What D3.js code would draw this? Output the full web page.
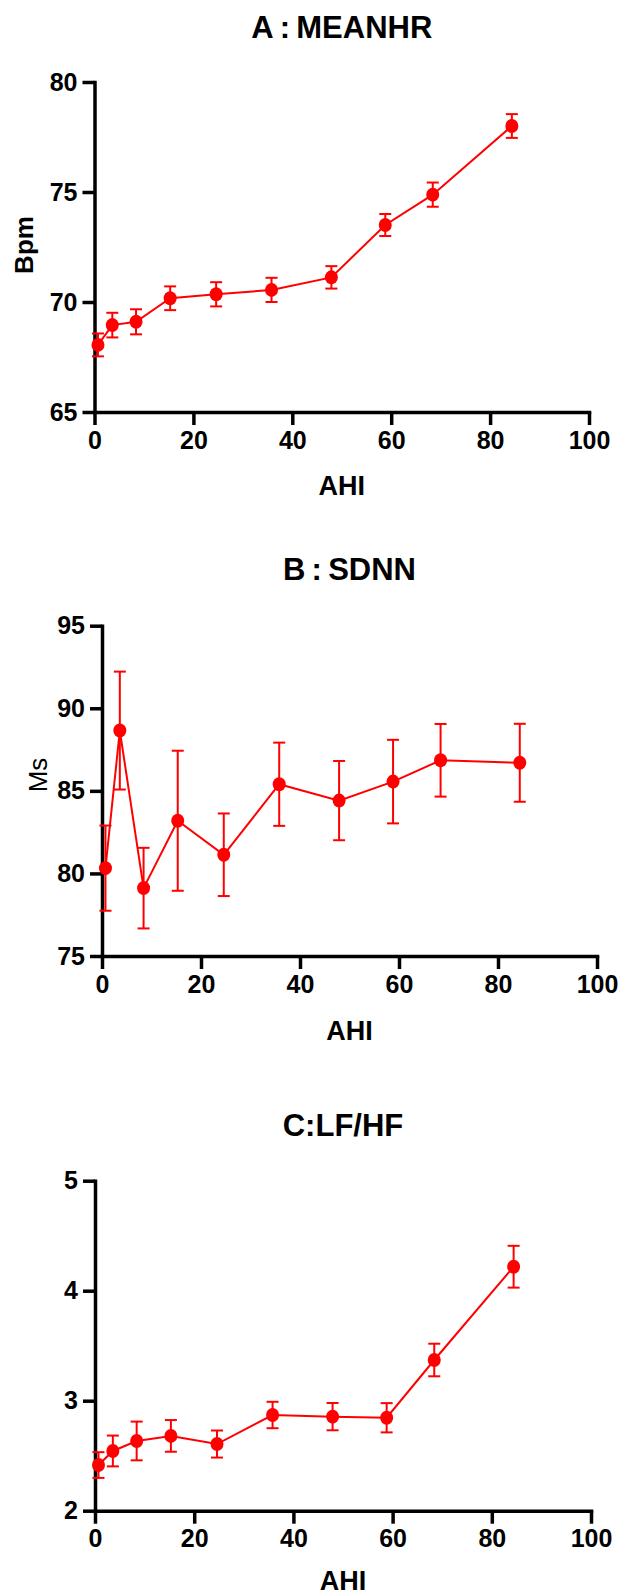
<!DOCTYPE html>
<html>
<head>
<meta charset="utf-8">
<script src="https://cdn.jsdelivr.net/npm/d3@7"></script>
<style>
  body { margin: 0; background: #fff; }
  text { font-family: "Liberation Sans", Arial, sans-serif; fill: #000; }
</style>
</head>
<body>
<svg id="chart" width="618" height="1596"></svg>
<script>
// AHI group means (shared by all three panels)
const ahi = [0.7, 3.6, 8.4, 15.3, 24.6, 35.8, 47.9, 58.8, 68.4, 84.4];

// A: mean heart rate
const meanHr = [68.05, 68.95, 69.1, 70.17, 70.35, 70.55, 71.12, 73.5, 74.88, 78.0];
const meanHrErr = [0.52, 0.56, 0.57, 0.54, 0.55, 0.55, 0.51, 0.5, 0.55, 0.54];
const meanHrTicks = [65, 70, 75, 80];

// B: SDNN
const sdnn = [80.32, 88.65, 79.11, 83.19, 81.13, 85.4, 84.41, 85.56, 86.85, 86.7];
const sdnnErr = [2.58, 3.57, 2.44, 4.24, 2.5, 2.52, 2.4, 2.53, 2.2, 2.36];
const sdnnTicks = [75, 80, 85, 90, 95];

// C: LF/HF
const lfhf = [2.415, 2.543, 2.634, 2.68, 2.606, 2.87, 2.855, 2.845, 3.37, 4.218];
const lfhfErr = [0.117, 0.14, 0.176, 0.144, 0.123, 0.12, 0.124, 0.133, 0.148, 0.19];
const lfhfTicks = [2, 3, 4, 5];

const xTicks = [0, 20, 40, 60, 80, 100];

const red = "#ff0000";
const svg = d3.select("#chart");

function panel(opt) {
  const x = d3.scaleLinear().domain([0, 100]).range([opt.left, opt.right]);
  const y = d3.scaleLinear().domain(opt.yDomain).range([opt.bottom, opt.top]);
  const g = svg.append("g");

  // title
  g.append("text")
    .attr("x", (opt.left + opt.right) / 2)
    .attr("y", opt.titleY)
    .attr("text-anchor", "middle")
    .style("font-size", "31px").style("font-weight", "bold")
    .text(opt.title);

  // x axis
  const xa = g.append("g")
    .attr("transform", `translate(0,${opt.bottom})`)
    .call(d3.axisBottom(x).tickValues(xTicks).tickFormat(d3.format("d"))
      .tickSize(13).tickSizeOuter(0).tickPadding(6));
  // y axis
  const ya = g.append("g")
    .attr("transform", `translate(${opt.left},0)`)
    .call(d3.axisLeft(y).tickValues(opt.yTicks).tickFormat(d3.format("d"))
      .tickSize(12).tickSizeOuter(0).tickPadding(5));

  [xa, ya].forEach(a => {
    a.select(".domain").attr("stroke", "#000").attr("stroke-width", 3.5)
      .attr("stroke-linecap", "square");
    a.selectAll(".tick line").attr("stroke", "#000").attr("stroke-width", 3.5);
    a.selectAll(".tick text")
      .style("font-family", '"Liberation Sans", Arial, sans-serif')
      .style("font-size", "25px").style("font-weight", "bold").attr("fill", "#000");
  });

  // x label
  g.append("text")
    .attr("x", (opt.left + opt.right) / 2)
    .attr("y", opt.xLabelY)
    .attr("text-anchor", "middle")
    .style("font-size", "27px").style("font-weight", "bold")
    .text("AHI");

  // y label
  if (opt.yLabel) {
    g.append("text")
      .attr("transform", `translate(${opt.yLabelX},${opt.yLabelMid}) rotate(-90)`)
      .attr("text-anchor", "middle")
      .style("font-size", "26px").style("font-weight", opt.yLabelWeight)
      .text(opt.yLabel);
  }

  const pts = ahi.map((a, i) => ({ a: a, v: opt.values[i], e: opt.errors[i] }));

  // error bars
  const eb = g.append("g").attr("stroke", red).attr("stroke-width", 2).attr("fill", "none");
  eb.selectAll("line.v").data(pts).enter().append("line")
    .attr("x1", d => x(d.a)).attr("x2", d => x(d.a))
    .attr("y1", d => y(d.v - d.e)).attr("y2", d => y(d.v + d.e));
  eb.selectAll("line.t").data(pts).enter().append("line")
    .attr("x1", d => x(d.a) - 6).attr("x2", d => x(d.a) + 6)
    .attr("y1", d => y(d.v + d.e)).attr("y2", d => y(d.v + d.e));
  eb.selectAll("line.b").data(pts).enter().append("line")
    .attr("x1", d => x(d.a) - 6).attr("x2", d => x(d.a) + 6)
    .attr("y1", d => y(d.v - d.e)).attr("y2", d => y(d.v - d.e));

  // connecting line
  g.append("path")
    .datum(pts)
    .attr("fill", "none").attr("stroke", red).attr("stroke-width", 2)
    .attr("d", d3.line().x(d => x(d.a)).y(d => y(d.v)));

  // markers
  g.selectAll("ellipse").data(pts).enter().append("ellipse")
    .attr("cx", d => x(d.a)).attr("cy", d => y(d.v))
    .attr("rx", 6.5).attr("ry", 7)
    .attr("fill", red);
}

panel({
  title: "A\u2009:\u2009MEANHR", titleY: 38,
  left: 94.5, right: 589, top: 82, bottom: 412,
  yDomain: [65, 80], yTicks: meanHrTicks,
  values: meanHr, errors: meanHrErr,
  xLabelY: 495, yLabel: "Bpm", yLabelX: 33, yLabelMid: 245, yLabelWeight: "bold"
});

panel({
  title: "B\u2009:\u2009SDNN", titleY: 580,
  left: 102, right: 597, top: 625.7, bottom: 956,
  yDomain: [75, 95], yTicks: sdnnTicks,
  values: sdnn, errors: sdnnErr,
  xLabelY: 1040, yLabel: "Ms", yLabelX: 47, yLabelMid: 775, yLabelWeight: "normal"
});

panel({
  title: "C:LF/HF", titleY: 1136,
  left: 95, right: 591, top: 1180.7, bottom: 1510.7,
  yDomain: [2, 5], yTicks: lfhfTicks,
  values: lfhf, errors: lfhfErr,
  xLabelY: 1590, yLabel: null
});
</script>
</body>
</html>
